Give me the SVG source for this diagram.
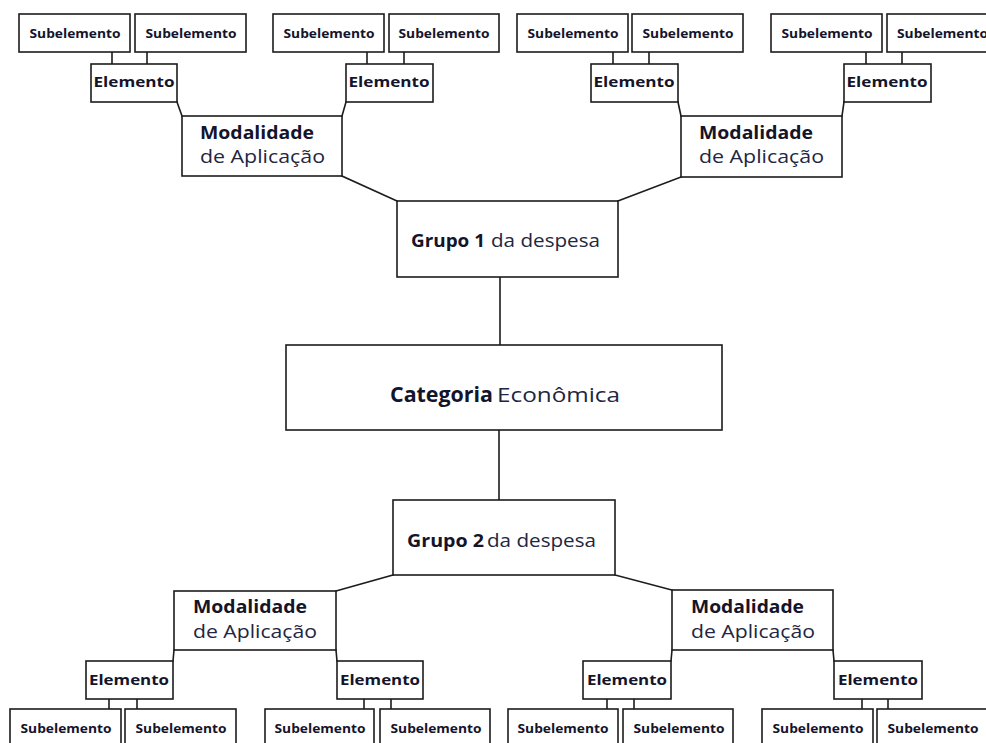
<svg xmlns="http://www.w3.org/2000/svg" width="986" height="743" viewBox="0 0 986 743">
  <style>
    .box { fill: #ffffff; stroke: #1c1c1c; stroke-width: 1.6; }
    .conn { stroke: #1c1c1c; stroke-width: 1.6; fill: none; stroke-linecap: square; }
    text { font-family: "Open Sans", "Noto Sans", "Liberation Sans", sans-serif; }
    .b { font-weight: 700; fill: #14142a; }
    .r { font-weight: 400; fill: #22263f; }
    .sub { font-size: 12.5px; }
    .el { font-size: 15px; }
    .mod { font-size: 18.5px; }
    .grp { font-size: 17.5px; }
    .cat { font-size: 20.5px; }
  </style>

  <rect x="0" y="0" width="986" height="743" fill="#ffffff"/>

  <!-- connectors -->
  <g id="connectors">
    <!-- subelement to element, top -->
    <path class="conn" d="M112 52V64M147 52V64M367 52V64M404 52V64M613 52V64M649 52V64M866 52V64M902 52V64"/>
    <!-- element to modality, top -->
    <path class="conn" d="M177 102L182 116M346 102L342 116M678 102L681 116M844 102L842 116"/>
    <!-- modality to group 1 -->
    <path class="conn" d="M342 176L397 201M681 177L618 201"/>
    <!-- group 1 / category / group 2 -->
    <path class="conn" d="M500 277V345M499 430V500"/>
    <!-- group 2 to modality -->
    <path class="conn" d="M393 575L336 591M615 575L672 590"/>
    <!-- modality to element, bottom -->
    <path class="conn" d="M174 650L173 661M336 650L337 661M672 650L671 661M833 650L834 661"/>
    <!-- element to subelement, bottom -->
    <path class="conn" d="M109 699V709M137 699V709M364 699V709M391 699V709M607 699V709M634 699V709M862 699V709M888 699V709"/>
  </g>

  <!-- top subelements -->
  <g id="sub-t1"><rect class="box" x="19" y="14" width="111" height="38"/><text class="b sub" x="75" y="38" text-anchor="middle" textLength="91" lengthAdjust="spacingAndGlyphs">Subelemento</text></g>
  <g id="sub-t2"><rect class="box" x="135" y="14" width="111" height="38"/><text class="b sub" x="191" y="38" text-anchor="middle" textLength="91" lengthAdjust="spacingAndGlyphs">Subelemento</text></g>
  <g id="sub-t3"><rect class="box" x="273" y="14" width="111" height="38"/><text class="b sub" x="329" y="38" text-anchor="middle" textLength="91" lengthAdjust="spacingAndGlyphs">Subelemento</text></g>
  <g id="sub-t4"><rect class="box" x="389" y="14" width="110" height="38"/><text class="b sub" x="444" y="38" text-anchor="middle" textLength="91" lengthAdjust="spacingAndGlyphs">Subelemento</text></g>
  <g id="sub-t5"><rect class="box" x="517" y="14" width="111" height="38"/><text class="b sub" x="573" y="38" text-anchor="middle" textLength="91" lengthAdjust="spacingAndGlyphs">Subelemento</text></g>
  <g id="sub-t6"><rect class="box" x="632" y="14" width="111" height="38"/><text class="b sub" x="688" y="38" text-anchor="middle" textLength="91" lengthAdjust="spacingAndGlyphs">Subelemento</text></g>
  <g id="sub-t7"><rect class="box" x="771" y="14" width="111" height="38"/><text class="b sub" x="827" y="38" text-anchor="middle" textLength="91" lengthAdjust="spacingAndGlyphs">Subelemento</text></g>
  <g id="sub-t8"><rect class="box" x="887" y="14" width="111" height="38"/><text class="b sub" x="897" y="38" textLength="91" lengthAdjust="spacingAndGlyphs">Subelemento</text></g>

  <!-- top elements -->
  <g id="el-t1"><rect class="box" x="91" y="64" width="86" height="38"/><text class="b el" x="134" y="87" text-anchor="middle" textLength="81" lengthAdjust="spacingAndGlyphs">Elemento</text></g>
  <g id="el-t2"><rect class="box" x="346" y="64" width="87" height="38"/><text class="b el" x="389" y="87" text-anchor="middle" textLength="81" lengthAdjust="spacingAndGlyphs">Elemento</text></g>
  <g id="el-t3"><rect class="box" x="591" y="64" width="87" height="38"/><text class="b el" x="634" y="87" text-anchor="middle" textLength="81" lengthAdjust="spacingAndGlyphs">Elemento</text></g>
  <g id="el-t4"><rect class="box" x="844" y="64" width="87" height="38"/><text class="b el" x="887" y="87" text-anchor="middle" textLength="81" lengthAdjust="spacingAndGlyphs">Elemento</text></g>

  <!-- top modalities -->
  <g id="mod-t1">
    <rect class="box" x="182" y="116" width="160" height="60"/>
    <text class="b mod" x="200" y="139" textLength="114" lengthAdjust="spacingAndGlyphs">Modalidade</text>
    <text class="r mod" x="200" y="163" textLength="125" lengthAdjust="spacingAndGlyphs">de Aplicação</text>
  </g>
  <g id="mod-t2">
    <rect class="box" x="681" y="116" width="161" height="61"/>
    <text class="b mod" x="699" y="139" textLength="114" lengthAdjust="spacingAndGlyphs">Modalidade</text>
    <text class="r mod" x="699" y="163" textLength="125" lengthAdjust="spacingAndGlyphs">de Aplicação</text>
  </g>

  <!-- group 1 -->
  <g id="grupo-1">
    <rect class="box" x="397" y="201" width="221" height="76"/>
    <text class="b grp" x="411" y="247" textLength="74" lengthAdjust="spacingAndGlyphs">Grupo 1</text>
    <text class="r grp" x="491" y="247" textLength="109" lengthAdjust="spacingAndGlyphs">da despesa</text>
  </g>

  <!-- economic category -->
  <g id="categoria">
    <rect class="box" x="286" y="345" width="436" height="85"/>
    <text class="b cat" x="390" y="402" textLength="103" lengthAdjust="spacingAndGlyphs">Categoria</text>
    <text class="r cat" x="497" y="402" textLength="123" lengthAdjust="spacingAndGlyphs">Econômica</text>
  </g>

  <!-- group 2 -->
  <g id="grupo-2">
    <rect class="box" x="393" y="500" width="222" height="75"/>
    <text class="b grp" x="407" y="547" textLength="77" lengthAdjust="spacingAndGlyphs">Grupo 2</text>
    <text class="r grp" x="487" y="547" textLength="109" lengthAdjust="spacingAndGlyphs">da despesa</text>
  </g>

  <!-- bottom modalities -->
  <g id="mod-b1">
    <rect class="box" x="174" y="591" width="162" height="59"/>
    <text class="b mod" x="193" y="613" textLength="114" lengthAdjust="spacingAndGlyphs">Modalidade</text>
    <text class="r mod" x="193" y="638" textLength="124" lengthAdjust="spacingAndGlyphs">de Aplicação</text>
  </g>
  <g id="mod-b2">
    <rect class="box" x="672" y="590" width="161" height="60"/>
    <text class="b mod" x="691" y="613" textLength="113" lengthAdjust="spacingAndGlyphs">Modalidade</text>
    <text class="r mod" x="691" y="638" textLength="124" lengthAdjust="spacingAndGlyphs">de Aplicação</text>
  </g>

  <!-- bottom elements -->
  <g id="el-b1"><rect class="box" x="86" y="661" width="87" height="38"/><text class="b el" x="129" y="685" text-anchor="middle" textLength="80" lengthAdjust="spacingAndGlyphs">Elemento</text></g>
  <g id="el-b2"><rect class="box" x="337" y="661" width="86" height="38"/><text class="b el" x="380" y="685" text-anchor="middle" textLength="80" lengthAdjust="spacingAndGlyphs">Elemento</text></g>
  <g id="el-b3"><rect class="box" x="583" y="661" width="88" height="38"/><text class="b el" x="627" y="685" text-anchor="middle" textLength="80" lengthAdjust="spacingAndGlyphs">Elemento</text></g>
  <g id="el-b4"><rect class="box" x="834" y="661" width="88" height="38"/><text class="b el" x="878" y="685" text-anchor="middle" textLength="80" lengthAdjust="spacingAndGlyphs">Elemento</text></g>

  <!-- bottom subelements -->
  <g id="sub-b1"><rect class="box" x="10" y="709" width="111" height="50"/><text class="b sub" x="66" y="733" text-anchor="middle" textLength="91" lengthAdjust="spacingAndGlyphs">Subelemento</text></g>
  <g id="sub-b2"><rect class="box" x="125" y="709" width="111" height="50"/><text class="b sub" x="181" y="733" text-anchor="middle" textLength="91" lengthAdjust="spacingAndGlyphs">Subelemento</text></g>
  <g id="sub-b3"><rect class="box" x="265" y="709" width="109" height="50"/><text class="b sub" x="320" y="733" text-anchor="middle" textLength="91" lengthAdjust="spacingAndGlyphs">Subelemento</text></g>
  <g id="sub-b4"><rect class="box" x="380" y="709" width="110" height="50"/><text class="b sub" x="436" y="733" text-anchor="middle" textLength="91" lengthAdjust="spacingAndGlyphs">Subelemento</text></g>
  <g id="sub-b5"><rect class="box" x="508" y="709" width="110" height="50"/><text class="b sub" x="563" y="733" text-anchor="middle" textLength="91" lengthAdjust="spacingAndGlyphs">Subelemento</text></g>
  <g id="sub-b6"><rect class="box" x="623" y="709" width="110" height="50"/><text class="b sub" x="679" y="733" text-anchor="middle" textLength="91" lengthAdjust="spacingAndGlyphs">Subelemento</text></g>
  <g id="sub-b7"><rect class="box" x="762" y="709" width="111" height="50"/><text class="b sub" x="818" y="733" text-anchor="middle" textLength="91" lengthAdjust="spacingAndGlyphs">Subelemento</text></g>
  <g id="sub-b8"><rect class="box" x="877" y="709" width="111" height="50"/><text class="b sub" x="933" y="733" text-anchor="middle" textLength="91" lengthAdjust="spacingAndGlyphs">Subelemento</text></g>
</svg>
